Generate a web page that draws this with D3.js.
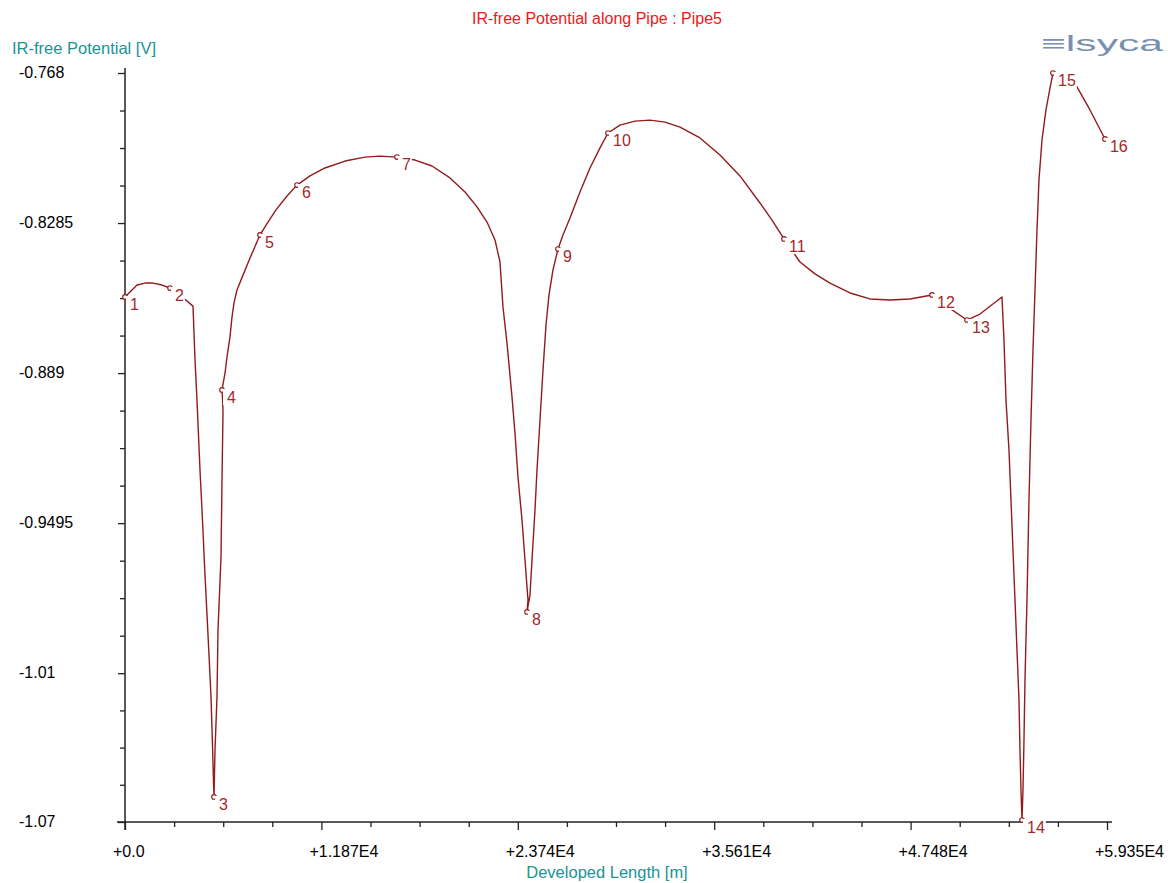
<!DOCTYPE html>
<html>
<head>
<meta charset="utf-8">
<script src="https://cdn.jsdelivr.net/npm/d3@7"></script>
<style>
  body { margin: 0; background: #fff; }
  svg { display: block; font-family: "Liberation Sans", Arial, sans-serif; }
</style>
</head>
<body>
<div id="chart"></div>
<script>
// Potential along the developed length of the pipe
const lengths = [
  0, 302, 725, 1209, 1692, 2236, 2720, 3384, 4110, 4231, 4351, 4533, 4654, 4835, 4956, 5077,
  5198, 5288, 5349, 5379, 5439, 5560, 5621, 5802, 5862, 5923, 5900, 5862, 6044, 6165, 6346,
  6467, 6588, 6769, 7132, 7555, 8159, 8642, 9126, 9791, 10395, 11181, 12087, 13296, 14505,
  15411, 16439, 17527, 18554, 19642, 20549, 21274, 21878, 22362, 22664, 22845, 23087, 23389,
  23570, 23752, 23993, 24175, 24356, 24296, 24477, 24598, 24779, 24900, 25081, 25263, 25444,
  25625, 25867, 26169, 26471, 26894, 27499, 28103, 28708, 29191, 29916, 30823, 31729, 32636,
  33543, 34751, 35960, 37169, 38377, 39103, 39828, 40795, 41702, 42608, 43817, 45026, 46234,
  47443, 48773, 49740, 50888, 51674, 53003, 53124, 53245, 53426, 53547, 53668, 53789, 53910,
  54031, 54091, 54152, 54212, 54272, 54333, 54393, 54514, 54635, 54756, 54877, 54998, 55119,
  55239, 55421, 55662, 55904, 56086, 56811, 57536, 58322, 59228
];
const potentials = [
  -0.8583, -0.8563, -0.8535, -0.8527, -0.8527, -0.8535, -0.8547, -0.8579, -0.8620, -0.8837,
  -0.8999, -0.9281, -0.9442, -0.9704, -0.9865, -1.0027, -1.0196, -1.0390, -1.0539, -1.0599,
  -1.0410, -1.0196, -0.9926, -0.9632, -0.9321, -0.9051, -0.9000, -0.8958, -0.8890, -0.8825,
  -0.8744, -0.8664, -0.8607, -0.8555, -0.8495, -0.8426, -0.8333, -0.8281, -0.8232, -0.8176,
  -0.8132, -0.8095, -0.8063, -0.8035, -0.8019, -0.8015, -0.8019, -0.8031, -0.8055, -0.8103,
  -0.8160, -0.8220, -0.8281, -0.8353, -0.8442, -0.8624, -0.8769, -0.8986, -0.9132, -0.9309,
  -0.9482, -0.9644, -0.9805, -0.9853, -0.9785, -0.9644, -0.9442, -0.9281, -0.9079, -0.8878,
  -0.8696, -0.8575, -0.8474, -0.8390, -0.8333, -0.8265, -0.8160, -0.8063, -0.7982, -0.7922,
  -0.7890, -0.7874, -0.7870, -0.7878, -0.7898, -0.7942, -0.8011, -0.8095, -0.8204, -0.8273,
  -0.8349, -0.8442, -0.8490, -0.8527, -0.8567, -0.8591, -0.8595, -0.8591, -0.8575, -0.8624,
  -0.8676, -0.8652, -0.8583, -0.8757, -0.8999, -0.9200, -0.9402, -0.9603, -0.9805, -1.0007,
  -1.0208, -1.0410, -1.0571, -1.0692, -1.0571, -1.0369, -1.0127, -0.9805, -0.9402, -0.9079,
  -0.8797, -0.8555, -0.8313, -0.8111, -0.7950, -0.7829, -0.7741, -0.7680, -0.7700, -0.7736,
  -0.7829, -0.7946
];

// Numbered nodes on the pipe
const nodeIds = ["1", "2", "3", "4", "5", "6", "7", "8", "9", "10", "11", "12", "13", "14", "15", "16"];
const nodeLengths = [0, 2720, 5379, 5862, 8159, 10395, 16439, 24296, 26169, 29191, 39828, 48773, 50888, 54212, 56086, 59228];
const nodePotentials = [-0.8583, -0.8547, -1.0599, -0.8958, -0.8333, -0.8132, -0.8019, -0.9853, -0.8390, -0.7922, -0.8349, -0.8575, -0.8676, -1.0692, -0.7680, -0.7946];

const xTicks = [0, 11870, 23740, 35610, 47480, 59350];
const xTickLabels = ["+0.0", "+1.187E4", "+2.374E4", "+3.561E4", "+4.748E4", "+5.935E4"];
const yTicks = [-0.768, -0.8285, -0.889, -0.9495, -1.01, -1.07];
const yTickLabels = ["-0.768", "-0.8285", "-0.889", "-0.9495", "-1.01", "-1.07"];

// three minor ticks between each pair of major ticks
function minorTicks(major) {
  const out = [];
  for (let i = 0; i < major.length - 1; i++) {
    const step = (major[i + 1] - major[i]) / 4;
    for (let k = 1; k < 4; k++) out.push(major[i] + k * step);
  }
  return out;
}

function drawChart() {
  const width = 1168;
  const height = 883;

  const svg = d3.select("#chart")
    .append("svg")
    .attr("width", width)
    .attr("height", height)
    .style("background-color", "#fff");

  const x = d3.scaleLinear().domain([0, 59350]).range([125, 1107]);
  const y = d3.scaleLinear().domain([-1.07, -0.768]).range([822, 73]);

  // Title + axis titles
  svg.append("text")
    .attr("x", 597).attr("y", 24)
    .attr("text-anchor", "middle")
    .attr("font-size", 16)
    .attr("fill", "#f01818")
    .text("IR-free Potential along Pipe : Pipe5");

  svg.append("text")
    .attr("x", 12).attr("y", 54)
    .attr("font-size", 16.5)
    .attr("fill", "#1a9494")
    .text("IR-free Potential [V]");

  svg.append("text")
    .attr("x", 607).attr("y", 878)
    .attr("text-anchor", "middle")
    .attr("font-size", 16.5)
    .attr("fill", "#1a9494")
    .text("Developed Length [m]");

  // logo
  svg.append("text")
    .attr("x", 1041).attr("y", 51)
    .attr("font-size", 22)
    .attr("fill", "#7890b0")
    .attr("textLength", 122)
    .attr("lengthAdjust", "spacingAndGlyphs")
    .text("\u2261lsyca");

  // Y axis
  const yAxis = svg.append("g")
    .attr("transform", "translate(125,0)")
    .call(d3.axisLeft(y).tickValues(yTicks).tickSize(7).tickSizeOuter(0)
      .tickFormat((d, i) => yTickLabels[i]));
  yAxis.select(".domain").remove();
  yAxis.selectAll("text")
    .attr("x", -106)
    .attr("dy", "0.28em")
    .attr("text-anchor", "start")
    .attr("font-size", 16)
    .attr("fill", "#000");

  svg.append("g")
    .attr("transform", "translate(125,0)")
    .call(d3.axisLeft(y).tickValues(minorTicks(yTicks)).tickSize(5).tickFormat(""))
    .select(".domain").remove();

  // X axis
  const xAxis = svg.append("g")
    .attr("transform", "translate(0,822)")
    .call(d3.axisBottom(x).tickValues(xTicks).tickSize(8).tickSizeOuter(0)
      .tickFormat((d, i) => xTickLabels[i]));
  xAxis.select(".domain").remove();
  xAxis.selectAll("text")
    .attr("x", -12.5)
    .attr("y", 24)
    .attr("text-anchor", "start")
    .attr("font-size", 16)
    .attr("fill", "#000");

  svg.append("g")
    .attr("transform", "translate(0,822)")
    .call(d3.axisBottom(x).tickValues(minorTicks(xTicks)).tickSize(5).tickFormat(""))
    .select(".domain").remove();

  svg.selectAll(".tick line").attr("stroke", "#222").attr("stroke-width", 1.3);

  // Axis lines
  svg.append("line")
    .attr("x1", 125).attr("x2", 125)
    .attr("y1", y(-0.768) - 5).attr("y2", y(-1.07) + 8)
    .attr("stroke", "#222").attr("stroke-width", 1.5);
  svg.append("line")
    .attr("x1", 117).attr("x2", x(59350) + 5)
    .attr("y1", y(-1.07)).attr("y2", y(-1.07))
    .attr("stroke", "#222").attr("stroke-width", 1.5);

  // Potential curve
  const line = d3.line()
    .x((d, i) => x(lengths[i]))
    .y((d, i) => y(potentials[i]));

  svg.append("path")
    .datum(lengths)
    .attr("d", line)
    .attr("fill", "none")
    .attr("stroke", "#921b1b")
    .attr("stroke-width", 1.4)
    .attr("stroke-linejoin", "round");

  // Node markers
  const nodes = nodeIds.map((id, i) => ({ id, px: x(nodeLengths[i]), py: y(nodePotentials[i]) }));

  svg.selectAll(".marker")
    .data(nodes)
    .enter()
    .append("circle")
    .attr("class", "marker")
    .attr("cx", d => d.px)
    .attr("cy", d => d.py)
    .attr("r", 2.3)
    .attr("fill", "#fff")
    .attr("stroke", "#921b1b")
    .attr("stroke-width", 1.1);

  // Labels with an opaque box, like the original
  const labelGroup = svg.selectAll(".node-label")
    .data(nodes)
    .enter()
    .append("g")
    .attr("class", "node-label");

  const bg = labelGroup.append("rect")
    .attr("fill", "#fff");

  const labels = labelGroup.append("text")
    .attr("x", d => d.px + 5)
    .attr("y", d => d.py + 13)
    .attr("font-size", 16)
    .attr("fill", "#a3282c")
    .text(d => d.id);

  bg.each(function (d, i) {
    const w = labels.nodes()[i].getComputedTextLength();
    d3.select(this)
      .attr("x", d.px + 1)
      .attr("y", d.py - 1)
      .attr("width", w + 5)
      .attr("height", 16);
  });
}

document.addEventListener("DOMContentLoaded", drawChart);
</script>
</body>
</html>
